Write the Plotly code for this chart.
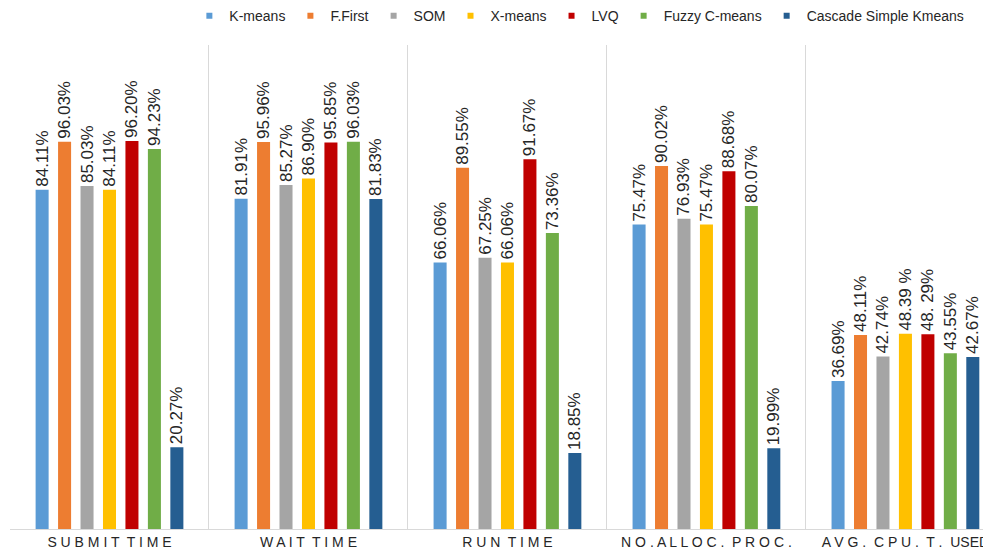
import plotly.graph_objects as go

categories = ["S U B M I T  T I M E", "W A I T  T I M E", "R U N  T I M E",
              "N O . A L L O C .  P R O C .", "A V G .  C P U .  T .  USED"]
series_names = ["K-means", "F.First", "SOM", "X-means", "LVQ", "Fuzzy C-means", "Cascade Simple Kmeans"]
colors = ["#5B9BD5", "#ED7D31", "#A5A5A5", "#FFC000", "#C00000", "#70AD47", "#255E91"]

kmeans = [84.11, 81.91, 66.06, 75.47, 36.69]
ffirst = [96.03, 95.96, 89.55, 90.02, 48.11]
som = [85.03, 85.27, 67.25, 76.93, 42.74]
xmeans = [84.11, 86.90, 66.06, 75.47, 48.39]
lvq = [96.20, 95.85, 91.67, 88.68, 48.29]
fuzzy = [94.23, 96.03, 73.36, 80.07, 43.55]
cascade = [20.27, 81.83, 18.85, 19.99, 42.67]

kmeans_lbl = ["84.11%", "81.91%", "66.06%", "75.47%", "36.69%"]
ffirst_lbl = ["96.03%", "95.96%", "89.55%", "90.02%", "48.11%"]
som_lbl = ["85.03%", "85.27%", "67.25%", "76.93%", "42.74%"]
xmeans_lbl = ["84.11%", "86.90%", "66.06%", "75.47%", "48.39 %"]
lvq_lbl = ["96.20%", "95.85%", "91.67%", "88.68%", "48. 29%"]
fuzzy_lbl = ["94.23%", "96.03%", "73.36%", "80.07%", "43.55%"]
cascade_lbl = ["20.27%", "81.83%", "18.85%", "19.99%", "42.67%"]

values = [kmeans, ffirst, som, xmeans, lvq, fuzzy, cascade]
labels = [kmeans_lbl, ffirst_lbl, som_lbl, xmeans_lbl, lvq_lbl, fuzzy_lbl, cascade_lbl]

FONT = "Liberation Sans, Arial, sans-serif"

fig = go.Figure()
for name, vals, lbls, col in zip(series_names, values, labels, colors):
    fig.add_trace(go.Bar(
        name=name, x=categories, y=vals, text=lbls,
        marker=dict(color=col, line=dict(width=0)),
        textposition="outside", textangle=-90, constraintext="none",
        textfont=dict(family=FONT, size=17, color="#262626"),
        cliponaxis=False, showlegend=False, legendgroup=name,
    ))
# legend entries with small square swatches (no data of their own)
for name, col in zip(series_names, colors):
    fig.add_trace(go.Scatter(
        name=name, x=[None], y=[None], mode="markers",
        marker=dict(symbol="square", size=6, color=col),
        showlegend=True, legendgroup=name,
    ))

# page body has an 8px margin: size the figure so the visible window matches
fig.update_layout(
    width=983, height=546,
    margin=dict(l=2, r=0, t=37, b=25, autoexpand=False),
    paper_bgcolor="white", plot_bgcolor="white",
    barmode="group", bargap=0.21, bargroupgap=0.42,
    showlegend=True,
    legend=dict(orientation="h", xref="container", yref="container",
                x=0.978, xanchor="right", y=0.985, yanchor="middle",
                font=dict(family=FONT, size=14, color="#262626"),
                itemwidth=30, traceorder="normal", bgcolor="rgba(0,0,0,0)"),
    font=dict(family=FONT),
)
fig.update_xaxes(
    type="category", range=[-0.5, 4.43], tickson="boundaries", automargin=False,
    showgrid=True, gridcolor="#D9D9D9", gridwidth=1,
    showline=True, linecolor="#D9D9D9", linewidth=1,
    ticks="", ticklen=0,
    tickfont=dict(family=FONT, size=14, color="#262626"),
)
fig.update_yaxes(range=[0, 120], showgrid=False, showticklabels=False, zeroline=False,
                 showline=False, automargin=False)

fig.write_html("out.html")
